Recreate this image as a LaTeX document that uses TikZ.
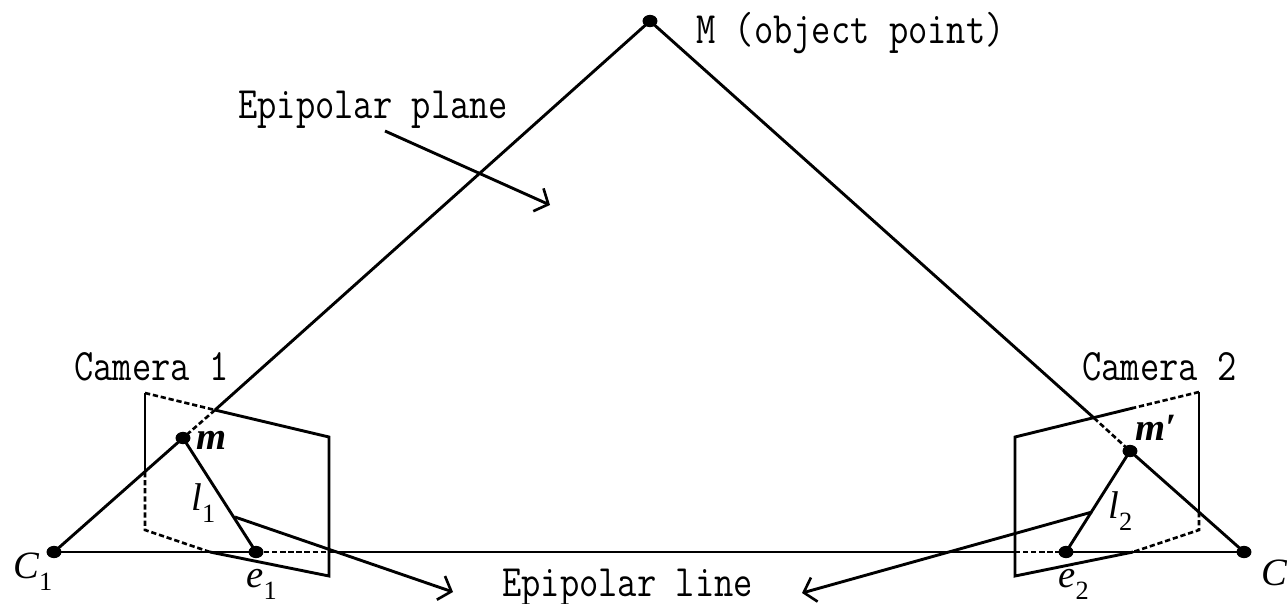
\documentclass[tikz,border=0pt]{standalone}
\usepackage{fontspec}
\usepackage{tikz}
\usetikzlibrary{arrows.meta,shapes.geometric}
\newfontfamily\symfont{Liberation Serif}
\newcommand{\symlab}[2]{{\symfont\itshape #1}\raisebox{-.32em}{\symfont\fontsize{15}{15}\selectfont #2}}
\tikzset{
  dot/.style={ellipse,fill=black,inner sep=0pt,minimum width=8.5pt,minimum height=7pt},
  edge/.style={line width=1.65pt},
  dashedge/.style={line width=1.5pt,dash pattern=on 3pt off 1.6pt},
  pointer/.style={edge,-{Straight Barb[length=2.2mm,width=5mm,line width=1.5pt]}},
  caption/.style={anchor=base west,inner sep=0pt,yscale=1.2,transform shape,font=\ttfamily\fontsize{21.3}{23}\selectfont},
  symbol/.style={anchor=base west,inner sep=0pt,font=\fontsize{22}{24}\selectfont}
}
\begin{document}
\begin{tikzpicture}[x=.02cm,y=-.02cm]
\useasboundingbox (0,0) rectangle (1287,603);
\foreach \nm/\x/\y in {M/650/21, Cone/54/552, Ctwo/1244/552, mone/183/438,
  mtwo/1130/451, eone/256/552, etwo/1066/552}{
  \node[dot] (\nm) at (\x,\y) {};
}
% camera 1
\coordinate (tlone) at (145,393);
\coordinate (trone) at (329,437);
\coordinate (brone) at (329,576);
\coordinate (blone) at (145,530);
\coordinate (topone) at (215,410);
\coordinate (leftone) at (145,472);
\coordinate (botone) at (210,552);
\coordinate (baseone) at (329,552);
\draw[edge] (leftone) -- (tlone);
\draw[edge] (topone) -- (trone) -- (brone) -- (botone);
\draw[dashedge] (tlone) -- (topone);
\draw[dashedge] (leftone) -- (blone) -- (botone);
% camera 2
\coordinate (tltwo) at (1015,437);
\coordinate (trtwo) at (1199,392);
\coordinate (brtwo) at (1199,530);
\coordinate (bltwo) at (1015,576);
\coordinate (toptwo) at (1133,408);
\coordinate (righttwo) at (1199,512);
\coordinate (bottwo) at (1133,552);
\coordinate (basetwo) at (1015,552);
\draw[edge] (toptwo) -- (tltwo) -- (bltwo) -- (bottwo);
\draw[edge] (trtwo) -- (righttwo);
\draw[dashedge] (trtwo) -- (toptwo);
\draw[dashedge] (righttwo) -- (brtwo) -- (bottwo);
% rays
\coordinate (cutone) at (215,410);
\coordinate (cuttwo) at (1094,418);
\draw[edge] (M.center) -- (cutone);
\draw[edge] (M.center) -- (cuttwo);
\draw[dashedge] (cutone) -- (mone.center);
\draw[dashedge] (cuttwo) -- (mtwo.center);
\draw[edge] (Cone.center) -- (mone.center) -- (eone.center);
\draw[edge] (Ctwo.center) -- (mtwo.center) -- (etwo.center);
\draw[edge] (Cone.center) -- (eone.center);
\draw[dashedge] (eone.center) -- (baseone);
\draw[edge] (baseone) -- (basetwo);
\draw[dashedge] (basetwo) -- (etwo.center);
\draw[edge] (etwo.center) -- (Ctwo.center);
% pointers
\coordinate (planefrom) at (385,131);
\coordinate (planeto) at (550,205);
\coordinate (lonefrom) at (235,517);
\coordinate (loneto) at (453,592);
\coordinate (ltwofrom) at (1092,512);
\coordinate (ltwoto) at (802,593);
\draw[pointer] (planefrom) -- (planeto);
\draw[pointer] (lonefrom) -- (loneto);
\draw[pointer] (ltwofrom) -- (ltwoto);
% labels
\foreach \nm/\x/\y/\txt in {objpt/696/43/{M (object point)}, planelab/238/118/{Epipolar plane},
  camone/74/380/{Camera 1}, camtwo/1082/380/{Camera 2}, linelab/502/596/{Epipolar line}}{
  \node[caption] (\nm) at (\x,\y) {\txt};
}
\foreach \nm/\x/\y/\s/\i in {Clab/13/578/C/1, Dlab/1261/585/C/2, elabone/246/587/e/1, elabtwo/1058/587/e/2,
  llabone/191/510/l/1, llabtwo/1108/518/l/2}{
  \node[symbol] (\nm) at (\x,\y) {\symlab{\s}{\i}};
}
\node[symbol] (mlabone) at (196,449) {\symfont\bfseries\itshape m};
\node[symbol] (mlabtwo) at (1135,440) {\symfont\bfseries\itshape m′};
\end{tikzpicture}
\end{document}
